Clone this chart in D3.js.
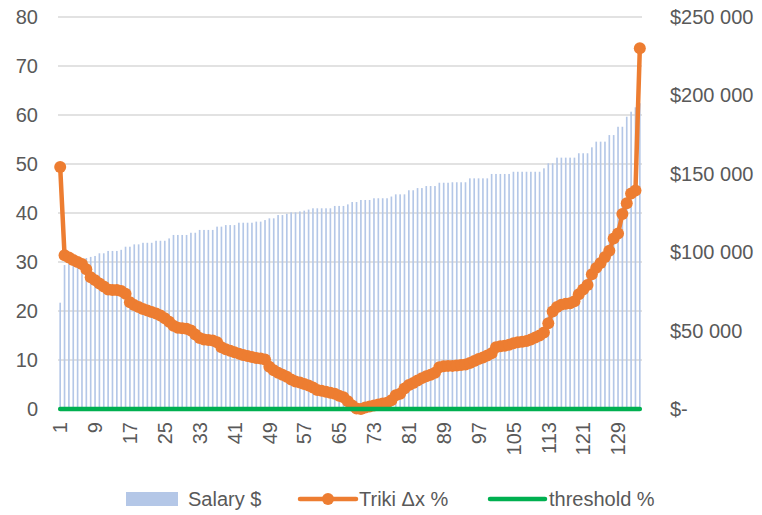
<!DOCTYPE html>
<html><head><meta charset="utf-8">
<script src="https://cdn.jsdelivr.net/npm/d3@7"></script>
<style>
html,body{margin:0;padding:0;background:#fff;}
text{font-family:"Liberation Sans",Arial,sans-serif;fill:#595959;}
</style></head><body>
<svg id="c" width="762" height="515"></svg>
<script>
const categories = d3.range(1, 135).map(String);
const salary = [
67800,91800,93500,94500,95000,95500,96300,97000,97600,99300,
99300,100800,100800,100800,101500,103500,103500,105000,105000,106000,
106000,106000,107300,107300,107300,108800,111000,111000,111000,111000,
112400,112400,114200,114200,114200,114200,116300,116300,117300,117300,
117300,118800,118800,118800,118800,119500,119500,120500,121600,121600,
123700,123700,124500,125400,125400,126000,126500,127200,128000,128000,
128000,128000,128000,129500,129500,129500,130500,132000,132000,133300,
133300,133300,134400,134400,134400,134400,135500,136900,136900,136900,
139500,139500,140900,140900,142200,142200,142200,144300,144300,144300,
144600,144600,144600,144600,147100,147100,147100,147100,147100,149900,
149900,149900,149900,149900,151300,151300,151300,151300,151300,151300,
151300,153500,156700,156700,160300,160300,160300,160300,160300,163100,
163100,163100,166900,170500,170500,170500,174700,174700,180000,180000,
186400,189600,192400,195000];
const triki = [
49.4,31.4,30.9,30.4,30.0,29.6,28.5,26.9,26.3,25.6,
25.0,24.4,24.3,24.3,24.1,23.5,21.8,21.2,20.8,20.4,
20.1,19.8,19.5,19.1,18.5,17.8,17.0,16.6,16.5,16.4,
16.0,15.2,14.5,14.2,14.1,14.0,13.6,12.6,12.2,11.9,
11.6,11.3,11.0,10.8,10.6,10.4,10.3,10.1,8.6,7.9,
7.4,7.0,6.6,6.0,5.6,5.4,5.1,4.8,4.4,3.9,
3.7,3.5,3.3,3.1,2.7,2.4,1.6,0.7,0.1,0.0,
0.3,0.5,0.7,0.9,1.1,1.3,1.8,2.8,3.1,4.2,
4.9,5.3,5.8,6.3,6.7,7.0,7.4,8.5,8.7,8.8,
8.8,8.9,9.0,9.1,9.4,9.8,10.2,10.5,10.9,11.4,
12.6,12.8,12.9,13.1,13.4,13.6,13.7,13.9,14.2,14.6,
15.0,15.6,17.5,19.9,20.8,21.3,21.5,21.6,22.0,23.4,
24.4,25.3,27.5,28.8,29.8,31.0,32.3,34.8,35.8,39.8,
42.0,44.0,44.6,73.6];
const threshold = categories.map(() => 0);
const leftTicks = [0,10,20,30,40,50,60,70,80];
const rightTicks = [0,50000,100000,150000,200000,250000];
const xTickLabels = d3.range(1, 135, 8).map(String);
const seriesNames = ["Salary $", "Triki \u0394x %", "threshold %"];

const svg = d3.select("#c");
const L = 58, R = 642, T = 17, B = 409;
const x = d3.scaleBand().domain(categories).range([L, R]).paddingInner(0.62).paddingOuter(0.31);
const xc = d => x(d) + x.bandwidth() / 2;
const yL = d3.scaleLinear().domain([0, 80]).range([B, T]);
const yR = d3.scaleLinear().domain([0, 250000]).range([B, T]);

// gridlines
svg.append("g").selectAll("line").data(leftTicks).join("line")
  .attr("x1", L).attr("x2", R).attr("y1", d => yL(d)).attr("y2", d => yL(d))
  .attr("stroke", "#d9d9d9").attr("stroke-width", 1.3);

// left axis
const gl = svg.append("g").attr("transform", `translate(${L},0)`)
  .call(d3.axisLeft(yL).tickValues(leftTicks).tickSize(0).tickPadding(20));
gl.select(".domain").remove();
gl.selectAll("text").style("font-size", "20px").attr("fill", "#595959").attr("font-family", "Liberation Sans, Arial, sans-serif");

// right axis
const fmt = d => d === 0 ? "$-" : "$" + d3.format(",")(d).replace(/,/g, " ");
const gr = svg.append("g").attr("transform", `translate(${R},0)`)
  .call(d3.axisRight(yR).tickValues(rightTicks).tickFormat(fmt).tickSize(0).tickPadding(28));
gr.select(".domain").remove();
gr.selectAll("text").style("font-size", "20px").attr("fill", "#595959").attr("font-family", "Liberation Sans, Arial, sans-serif");

// bars
svg.append("g").selectAll("rect").data(categories).join("rect")
  .attr("x", d => x(d)).attr("width", x.bandwidth())
  .attr("y", (d, i) => yR(salary[i])).attr("height", (d, i) => B - yR(salary[i]))
  .attr("fill", "#b4c7e7");

// x axis labels
const gx = svg.append("g").attr("transform", `translate(0,${B})`)
  .call(d3.axisBottom(x).tickValues(xTickLabels).tickSize(0));
gx.select(".domain").remove();
gx.selectAll("text").style("font-size", "20px").attr("fill", "#595959")
  .attr("font-family", "Liberation Sans, Arial, sans-serif")
  .attr("text-anchor", "end").attr("transform", "rotate(-90)")
  .attr("x", -13).attr("y", 0).attr("dy", "0.36em");

// triki line
const line = d3.line().x((d, i) => xc(categories[i])).y(d => yL(d));
svg.append("path").datum(triki).attr("d", line).attr("fill", "none")
  .attr("stroke", "#ed7d31").attr("stroke-width", 4.5).attr("stroke-linejoin", "round");
svg.append("g").selectAll("circle").data(triki).join("circle")
  .attr("cx", (d, i) => xc(categories[i])).attr("cy", d => yL(d)).attr("r", 6)
  .attr("fill", "#ed7d31");

// threshold line
svg.append("path").datum(threshold).attr("d", line).attr("fill", "none")
  .attr("stroke", "#00b050").attr("stroke-width", 4.5).attr("stroke-linecap", "round");

// legend
const lg = svg.append("g").attr("font-size", "20px");
const ly = 499;
lg.append("rect").attr("x", 126).attr("y", ly - 7).attr("width", 52).attr("height", 14).attr("fill", "#b4c7e7");
lg.append("text").attr("x", 188).attr("y", ly).attr("dy", "0.35em").text(seriesNames[0]);
lg.append("line").attr("x1", 300).attr("x2", 356).attr("y1", ly).attr("y2", ly)
  .attr("stroke", "#ed7d31").attr("stroke-width", 4.5).attr("stroke-linecap", "round");
lg.append("circle").attr("cx", 328).attr("cy", ly).attr("r", 6).attr("fill", "#ed7d31");
lg.append("text").attr("x", 359).attr("y", ly).attr("dy", "0.35em").text(seriesNames[1]);
lg.append("line").attr("x1", 490).attr("x2", 545).attr("y1", ly).attr("y2", ly)
  .attr("stroke", "#00b050").attr("stroke-width", 4.5).attr("stroke-linecap", "round");
lg.append("text").attr("x", 549).attr("y", ly).attr("dy", "0.35em").text(seriesNames[2]);
</script>
</body></html>
